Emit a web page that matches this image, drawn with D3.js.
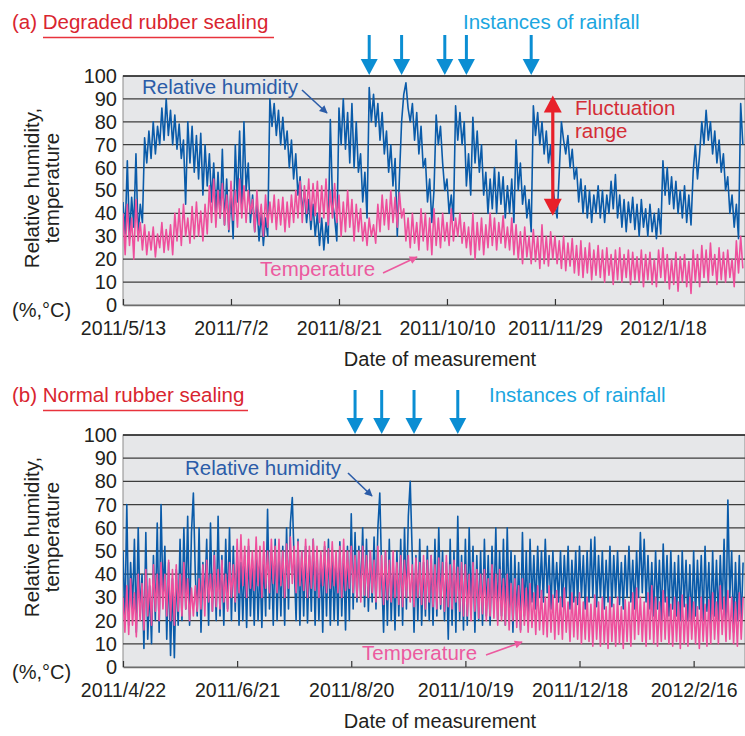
<!DOCTYPE html>
<html>
<head>
<meta charset="utf-8">
<script src="https://cdn.jsdelivr.net/npm/d3@7"></script>
<style>
body{margin:0;background:#fff;}
text{font-family:"Liberation Sans",Arial,sans-serif;}
</style>
</head>
<body>
<svg id="chart" width="745" height="736"></svg>
<script>
// one reading per day
var humA=[
45,31,63,29,47,34,66,30,44,36,
73,62,76,64,80,66,78,70,86,72,
90,74,85,70,83,68,79,64,72,44,
80,62,78,58,74,55,75,48,70,52,
66,45,62,40,58,38,68,35,55,32,
50,29,70,45,76,40,80,50,62,36,
48,32,44,28,40,26,38,30,90,78,
88,74,85,70,82,68,76,60,72,55,
66,48,56,40,50,36,46,33,44,30,
40,26,38,24,36,27,81,45,38,28,
86,70,90,68,84,62,88,60,80,58,
66,45,58,38,95,80,92,78,88,72,
84,66,76,58,70,52,64,30,56,80,
92,97,86,80,88,72,84,66,78,60,
64,45,55,36,50,83,70,78,62,50,
55,40,48,37,87,72,84,70,80,52,
66,48,82,62,76,58,70,48,58,40,
55,42,60,40,58,44,56,38,52,40,
55,36,72,50,62,44,52,38,46,32,
87,74,84,70,80,66,76,62,70,52,
44,38,58,80,72,66,74,60,68,55,
60,45,55,40,52,38,50,36,48,40,
52,38,50,36,48,40,54,42,57,38,
48,34,46,32,45,36,47,33,44,30,
46,34,42,30,44,32,40,29,42,31,
63,48,60,44,56,42,54,40,50,38,
52,36,48,35,58,70,55,66,80,70,
85,72,80,66,76,62,72,58,66,50,
56,40,48,34,44,29,88,70];

var tempA=[
40,22,44,26,38,20,46,28,36,24,
35,22,32,24,34,21,31,25,36,23,
33,24,35,22,40,28,42,26,44,30,
38,27,43,29,45,30,41,28,44,31,
52,36,55,34,50,38,53,35,48,33,
54,37,50,34,55,38,52,36,50,40,
46,32,50,35,44,30,48,34,45,36,
48,33,46,35,47,32,45,34,48,36,
50,38,54,36,52,40,55,37,53,39,
54,36,52,38,55,35,50,38,53,36,
48,30,45,32,50,34,46,28,44,32,
42,28,36,26,38,30,35,27,44,32,
48,35,46,33,50,36,47,34,49,38,
42,28,38,25,40,27,36,24,42,28,
40,24,38,22,42,26,38,25,40,28,
36,26,42,28,38,30,40,27,36,25,
34,22,40,20,36,24,38,22,35,25,
40,26,38,24,36,27,39,25,34,24,
38,22,35,20,32,18,34,21,30,18,
33,19,30,16,35,18,30,17,32,20,
30,18,28,16,30,15,27,17,29,14,
26,13,28,12,25,14,27,11,24,13,
26,12,24,10,25,13,22,9,24,11,
25,10,22,12,24,9,23,11,21,10,
24,8,22,11,23,9,20,8,24,12,
25,10,22,7,20,9,23,6,21,10,
22,8,19,5,24,10,22,8,26,12,
24,10,27,13,22,9,25,11,23,10,
24,12,20,8,28,14,30,16];

var humB=[
50,20,70,18,45,25,55,15,60,22,
40,8,58,12,35,10,48,20,62,15,
70,30,52,12,45,5,38,4,42,18,
55,20,60,25,65,18,58,75,40,22,
60,15,45,28,55,18,62,24,50,20,
65,22,48,18,55,25,60,20,52,24,
50,18,45,20,48,17,52,22,46,18,
50,20,44,17,48,22,68,25,50,18,
55,20,48,22,52,18,60,25,62,73,
45,20,55,18,50,22,52,19,48,24,
55,18,50,20,48,15,52,22,55,18,
50,20,46,18,54,22,48,16,52,20,
66,25,58,28,52,30,60,26,55,24,
50,28,56,25,60,75,40,15,50,18,
55,20,45,16,50,22,55,18,60,25,
65,80,50,15,48,20,55,18,45,22,
52,20,48,18,55,22,60,25,50,20,
45,12,55,18,50,15,65,20,48,16,
55,18,60,25,52,15,48,20,50,18,
55,22,48,18,52,25,60,20,50,22,
55,18,60,25,50,15,48,20,45,16,
58,22,50,18,55,28,48,25,52,30,
50,28,55,32,48,25,50,30,45,28,
50,26,48,30,52,25,46,28,50,27,
52,30,48,25,50,28,55,30,56,26,
48,30,50,25,46,28,52,26,48,30,
50,27,45,25,48,30,52,28,46,25,
50,30,58,32,55,28,48,25,45,22,
50,25,46,20,53,28,48,22,50,25,
45,22,48,20,50,26,46,20,44,18,
50,22,46,25,48,20,52,24,45,18,
50,22,46,20,48,25,55,18,72,30,
50,15,45,20,48,18,45];

var tempB=[
30,15,35,14,38,18,32,13,40,20,
36,16,42,22,38,18,44,24,40,20,
45,25,40,22,46,20,42,18,44,24,
40,22,45,25,38,20,34,22,35,24,
38,25,44,22,46,28,40,24,48,26,
42,25,46,28,40,24,45,30,44,28,
55,32,57,35,52,30,55,34,50,33,
56,35,52,30,54,34,50,32,55,36,
52,32,55,35,50,30,53,34,56,36,
52,32,54,35,50,33,55,30,52,34,
55,33,52,30,50,35,54,32,51,34,
54,35,50,32,52,30,55,33,50,34,
52,32,48,30,50,28,52,31,48,30,
50,32,46,28,52,30,48,27,50,29,
46,28,50,30,45,27,48,26,46,30,
48,28,44,26,47,30,45,27,48,25,
46,28,48,26,44,25,47,27,45,24,
48,26,44,25,46,28,43,24,45,22,
44,22,40,20,45,24,42,21,40,23,
42,20,38,22,44,21,40,18,42,20,
38,18,40,16,36,20,38,17,35,15,
38,18,34,15,36,17,32,14,35,16,
33,14,30,13,35,15,31,12,33,14,
30,12,34,15,28,11,32,13,30,12,
32,10,28,12,30,11,27,9,31,12,
28,9,30,10,26,8,30,11,27,9,
30,10,26,8,29,11,28,9,32,12,
34,14,30,11,28,9,32,12,35,10,
30,9,28,11,33,12,30,10,27,9,
30,11,28,8,31,10,27,9,30,12,
28,10,26,8,30,11,27,9,29,10,
32,12,28,10,35,14,30,11,33,12,
30,10,28,9,32,12,30];

var yTicks=[0,10,20,30,40,50,60,70,80,90,100];
var ticksA=["2011-05-13","2011-07-02","2011-08-21","2011-10-10","2011-11-29","2012-01-18"];
var ticksB=["2011-04-22","2011-06-21","2011-08-20","2011-10-19","2011-12-18","2012-02-16"];
var rainA=["2011-09-04","2011-09-19","2011-10-09","2011-10-19","2011-11-18"];
var rainB=["2011-08-22","2011-09-05","2011-09-22","2011-10-15"];

var parse=d3.timeParse("%Y-%m-%d");
var fmt=function(d){return d.getFullYear()+"/"+(d.getMonth()+1)+"/"+d.getDate();};

var BLUE="#0a5ba9", PINK="#ee4f9c", RED="#d9252f", SKY="#1ba6e0", ARROW="#0b8ed3";

var svg=d3.select("#chart");
var defs=svg.append("defs");

var addHead=function(id,color){
  defs.append("marker")
    .attr("id",id)
    .attr("viewBox","0 0 10 10")
    .attr("refX",9).attr("refY",5)
    .attr("markerWidth",9).attr("markerHeight",8)
    .attr("markerUnits","userSpaceOnUse")
    .attr("orient","auto")
    .append("path")
    .attr("d","M0,0L10,5L0,10z")
    .attr("fill",color);
};
addHead("headBlue","#2b5ca8");
addHead("headPink","#ec5a9f");

var drawPanel=function(p){
  var g=svg.append("g");
  var start=parse(p.start);
  var x=d3.scaleTime()
    .domain([start,d3.timeDay.offset(start,p.span)])
    .range([123,745]);
  var y=d3.scaleLinear().domain([0,100]).range([p.bottom,p.top]);

  g.append("rect")
    .attr("x",123).attr("y",p.top)
    .attr("width",622).attr("height",p.bottom-p.top)
    .attr("fill","#e6e7e9")
    .attr("stroke","#8c8c8c").attr("stroke-width",1);

  g.selectAll(".grid")
    .data(yTicks.slice(1))
    .enter()
    .append("line")
    .attr("x1",123).attr("x2",745)
    .attr("y1",function(d){return y(d);})
    .attr("y2",function(d){return y(d);})
    .attr("stroke",function(d){return d==100?"#1e1e1e":"#3d3d3d";})
    .attr("stroke-width",1.3);

  var clipId="clip"+p.name;
  defs.append("clipPath").attr("id",clipId)
    .append("rect").attr("x",123).attr("y",p.top-2)
    .attr("width",622).attr("height",p.bottom-p.top+2);

  var line=d3.line()
    .x(function(d,i){return x(d3.timeDay.offset(start,i));})
    .y(function(d){return y(d);});

  var lines=g.append("g").attr("clip-path","url(#"+clipId+")");
  [[p.hum,BLUE],[p.temp,PINK]].forEach(function(s){
    lines.append("path")
      .attr("d",line(s[0]))
      .attr("fill","none")
      .attr("stroke",s[1])
      .attr("stroke-width",1.6)
      .attr("stroke-linejoin","round");
  });

  // axes
  var xAxis=d3.axisBottom(x)
    .tickValues(p.ticks.map(parse))
    .tickFormat(fmt)
    .tickSizeInner(-6).tickSizeOuter(0).tickPadding(16);
  var xg=g.append("g").attr("transform","translate(0,"+p.bottom+")").call(xAxis);
  xg.select(".domain").attr("stroke","#6d6d6d").attr("stroke-width",1.3);
  xg.selectAll(".tick line").attr("stroke","#333").attr("stroke-width",1.2);
  xg.selectAll("text").attr("font-size",19.5).attr("fill","#231f20")
    .attr("font-family","'Liberation Sans',Arial,sans-serif");

  var yAxis=d3.axisLeft(y).tickValues(yTicks).tickSize(0).tickPadding(6);
  var yg=g.append("g").attr("transform","translate(123,0)").call(yAxis);
  yg.select(".domain").remove();
  yg.selectAll("text").attr("font-size",20).attr("fill","#231f20")
    .attr("font-family","'Liberation Sans',Arial,sans-serif");

  // titles
  var yt=g.append("text")
    .attr("transform","translate(38.5,"+p.ylabY+") rotate(-90)")
    .attr("text-anchor","middle")
    .attr("font-size",20.5).attr("fill","#231f20");
  yt.append("tspan").attr("x",0).attr("y",0).text("Relative humidity,");
  yt.append("tspan").attr("x",0).attr("y",20.5).text("temperature");

  g.append("text").attr("x",12).attr("y",p.bottom+12)
    .attr("font-size",20).attr("fill","#231f20").text("(%,°C)");

  g.append("text").attr("x",440).attr("y",p.bottom+61)
    .attr("text-anchor","middle")
    .attr("font-size",20).attr("fill","#231f20")
    .text("Date of measurement");

  g.append("text").attr("x",12).attr("y",p.titleY)
    .attr("font-size",20.5).attr("fill",RED).text(p.title);
  g.append("line")
    .attr("x1",43).attr("x2",p.ulEnd)
    .attr("y1",p.titleY+8.5).attr("y2",p.titleY+8.5)
    .attr("stroke","#e8333c").attr("stroke-width",1.6);

  g.append("text").attr("x",p.rainX).attr("y",p.titleY)
    .attr("font-size",20.5).attr("fill",SKY).text("Instances of rainfall");

  // rain arrows
  var ra=g.selectAll(".rain").data(p.rain.map(parse)).enter().append("g");
  ra.append("line")
    .attr("x1",function(d){return x(d);}).attr("x2",function(d){return x(d);})
    .attr("y1",p.top-p.rainLen).attr("y2",p.top-14)
    .attr("stroke",ARROW).attr("stroke-width",3);
  ra.append("path")
    .attr("d",function(d){var c=x(d);return "M"+(c-8.5)+","+(p.top-17)+"L"+(c+8.5)+","+(p.top-17)+"L"+c+","+(p.top-1)+"Z";})
    .attr("fill",ARROW);

  // series labels
  g.append("text").attr("x",p.rh[0]).attr("y",p.rh[1])
    .attr("font-size",20.5).attr("fill","#2b5ca8").text("Relative humidity");
  g.append("line")
    .attr("x1",p.rh[2]).attr("y1",p.rh[3]).attr("x2",p.rh[4]).attr("y2",p.rh[5])
    .attr("stroke","#2b5ca8").attr("stroke-width",1.6)
    .attr("marker-end","url(#headBlue)");
  g.append("text").attr("x",p.tl[0]).attr("y",p.tl[1])
    .attr("font-size",20.5).attr("fill","#ec5a9f").text("Temperature");
  g.append("line")
    .attr("x1",p.tl[2]).attr("y1",p.tl[3]).attr("x2",p.tl[4]).attr("y2",p.tl[5])
    .attr("stroke","#ec5a9f").attr("stroke-width",1.6)
    .attr("marker-end","url(#headPink)");

  return {x:x,y:y,g:g};
};

var a=drawPanel({name:"A",start:"2011-05-13",span:288,top:76,bottom:305,
  hum:humA,temp:tempA,ticks:ticksA,rain:rainA,
  title:"(a) Degraded rubber sealing",titleY:29,ulEnd:274,rainX:463,rainLen:41,ylabY:188,
  rh:[142,94,302,90,327,113],tl:[260,276,383,273,417,257]});

var b=drawPanel({name:"B",start:"2011-04-22",span:327,top:435,bottom:667,
  hum:humB,temp:tempB,ticks:ticksB,rain:rainB,
  title:"(b) Normal rubber sealing",titleY:402,ulEnd:248,rainX:489,rainLen:45,ylabY:537,
  rh:[185,475,348,473,372,496],tl:[362,660,486,655,522,642]});

// fluctuation range arrow in (a)
var fx=a.x(parse("2011-11-28"));
var fTop=a.y(91.5), fBot=a.y(39);
a.g.append("line").attr("x1",fx).attr("x2",fx)
  .attr("y1",fTop+12).attr("y2",fBot-12)
  .attr("stroke","#e8202a").attr("stroke-width",3.2);
a.g.append("path")
  .attr("d","M"+fx+","+fTop+"L"+(fx+9)+","+(fTop+17)+"L"+(fx-9)+","+(fTop+17)+"Z")
  .attr("fill","#e8202a");
a.g.append("path")
  .attr("d","M"+fx+","+fBot+"L"+(fx+9)+","+(fBot-17)+"L"+(fx-9)+","+(fBot-17)+"Z")
  .attr("fill","#e8202a");
a.g.append("text").attr("x",575).attr("y",115)
  .attr("font-size",20.5).attr("fill","#d42d36").text("Fluctuation");
a.g.append("text").attr("x",575).attr("y",138)
  .attr("font-size",20.5).attr("fill","#d42d36").text("range");
</script>
</body>
</html>
